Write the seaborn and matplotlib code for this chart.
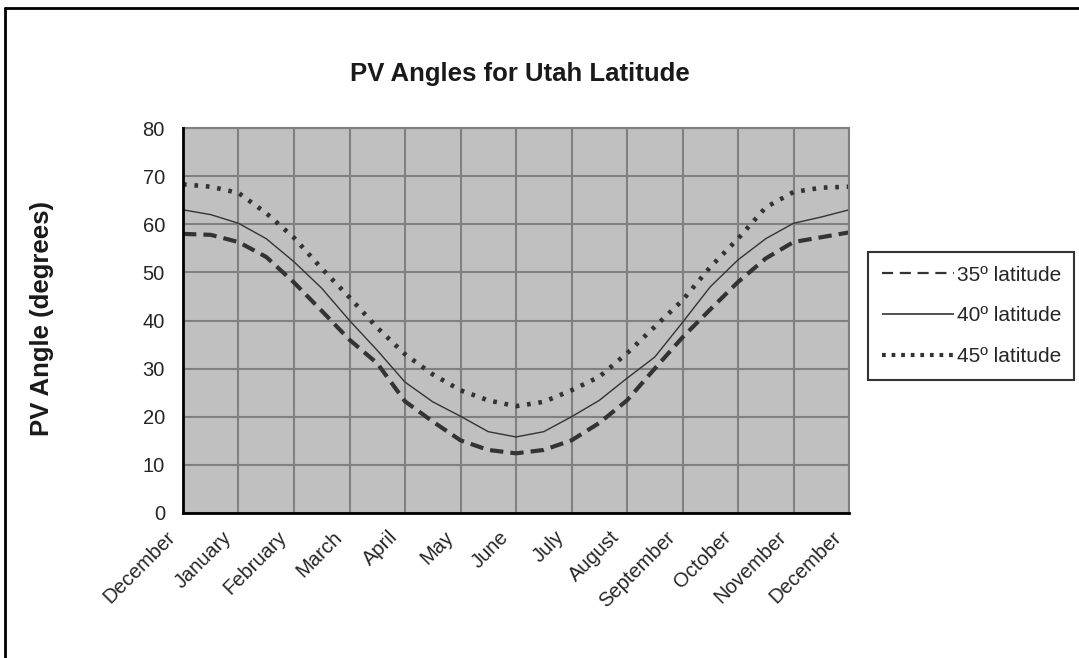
import numpy as np
import pandas as pd
import matplotlib
matplotlib.use("Agg")
import matplotlib.pyplot as plt
import matplotlib.transforms as mtransforms
import seaborn as sns

# ---- data (semi-monthly samples, Dec -> Dec) ----
month_labels = ["December", "January", "February", "March", "April", "May", "June",
                "July", "August", "September", "October", "November", "December"]
lat35 = [58.0, 57.8, 56.3, 53.2, 47.9, 42.0, 36.0, 31.1, 23.2, 19.0, 15.1, 13.1, 12.4,
         13.1, 15.1, 18.7, 23.4, 30.0, 36.5, 42.3, 48.0, 52.9, 56.3, 57.3, 58.3]
lat40 = [63.0, 62.0, 60.2, 57.0, 52.2, 46.7, 40.0, 33.8, 27.2, 23.1, 20.1, 16.9, 15.8,
         16.9, 20.0, 23.4, 28.0, 32.4, 39.6, 47.0, 52.6, 57.0, 60.2, 61.5, 63.0]
lat45 = [68.3, 67.8, 66.5, 62.3, 57.2, 50.8, 44.8, 38.5, 33.0, 28.8, 25.5, 23.4, 22.2,
         23.1, 25.5, 28.3, 33.2, 38.7, 44.2, 51.1, 57.0, 63.5, 66.7, 67.6, 67.8]
series_names = ["35º latitude", "40º latitude", "45º latitude"]
y_ticks = [0, 10, 20, 30, 40, 50, 60, 70, 80]

pos = np.arange(len(lat35)) / 2.0

sns.set_style("white")
plt.rcParams["font.family"] = ["Liberation Sans", "DejaVu Sans"]

fig = plt.figure(figsize=(10.79, 6.58), dpi=100)
ax = fig.add_axes([183 / 1079, 1 - 513 / 658, (849 - 183) / 1079, (513 - 128) / 658])
ax.set_facecolor("#c0c0c0")

line_col = "#333333"
sns.lineplot(x=pos, y=lat35, ax=ax, color=line_col, lw=3.0, label=series_names[0])
sns.lineplot(x=pos, y=lat40, ax=ax, color=line_col, lw=1.0, label=series_names[1])
sns.lineplot(x=pos, y=lat45, ax=ax, color=line_col, lw=3.3, label=series_names[2])
lines = ax.get_lines()
lines[0].set_dashes((3.2, 1.7))
lines[2].set_dashes((0.8, 1.7))
for ln in lines:
    ln.set_solid_capstyle("butt")
    ln.set_dash_capstyle("butt")

ax.set_xlim(0, 12)
ax.set_ylim(0, 80)
ax.set_xticks(range(len(month_labels)))
ax.set_xticklabels(month_labels, rotation=45, ha="right", rotation_mode="anchor",
                   fontsize=14.5)
ax.set_yticks(y_ticks)
ax.set_yticklabels([str(v) for v in y_ticks], fontsize=14.5)
ax.tick_params(axis="both", direction="inout", length=12, width=1.6, color="black")
ax.tick_params(axis="y", pad=7)
ax.tick_params(axis="x", pad=3)
ax.grid(True, color="#808080", lw=1.5)
ax.set_axisbelow(True)

for s in ["top", "right"]:
    ax.spines[s].set_color("#808080")
    ax.spines[s].set_linewidth(1.5)
for s in ["left", "bottom"]:
    ax.spines[s].set_color("black")
    ax.spines[s].set_linewidth(2.0)
    ax.spines[s].set_zorder(5)

ax.set_xlabel("")
ax.set_ylabel("")
fig.text(42 / 1079, 1 - 318 / 658, "PV Angle (degrees)", rotation=90, ha="center",
         va="center", fontsize=18.5, fontweight="bold", color="#1a1a1a")

fig.text(520 / 1079, 1 - 74 / 658, "PV Angles for Utah Latitude", ha="center",
         va="center", fontsize=18.5, fontweight="bold", color="#1a1a1a")

leg = ax.legend(loc="upper left", bbox_to_anchor=(868 / 1079, 1 - 252 / 658),
                bbox_transform=fig.transFigure, fontsize=15, frameon=True,
                fancybox=False, edgecolor="black", handlelength=3.5,
                handletextpad=0.1, labelspacing=1.05, borderpad=0.65,
                borderaxespad=0)
leg.get_frame().set_linewidth(1.5)
leg_lines = leg.get_lines()
leg_lines[0].set_linewidth(1.6)
leg_lines[0].set_dashes((5, 3))
leg_lines[1].set_linewidth(1.2)
leg_lines[2].set_linewidth(3.0)
leg_lines[2].set_dashes((0.9, 1.4))

# figure border (top and left edges)
fig.add_artist(plt.Line2D([5 / 1079, 5 / 1079], [0, 1 - 8 / 658], transform=fig.transFigure,
                          color="black", lw=2))
fig.add_artist(plt.Line2D([5 / 1079, 1], [1 - 8 / 658, 1 - 8 / 658], transform=fig.transFigure,
                          color="black", lw=2))

# shift rotated month labels so their ends sit just left of the ticks
fig.canvas.draw()
shift = mtransforms.ScaledTranslation(-17 / 100, -2 / 100, fig.dpi_scale_trans)
for tick in ax.xaxis.get_major_ticks():
    lab = tick.label1
    lab.set_transform(lab.get_transform() + shift)

fig.savefig("out.png", dpi=100)
